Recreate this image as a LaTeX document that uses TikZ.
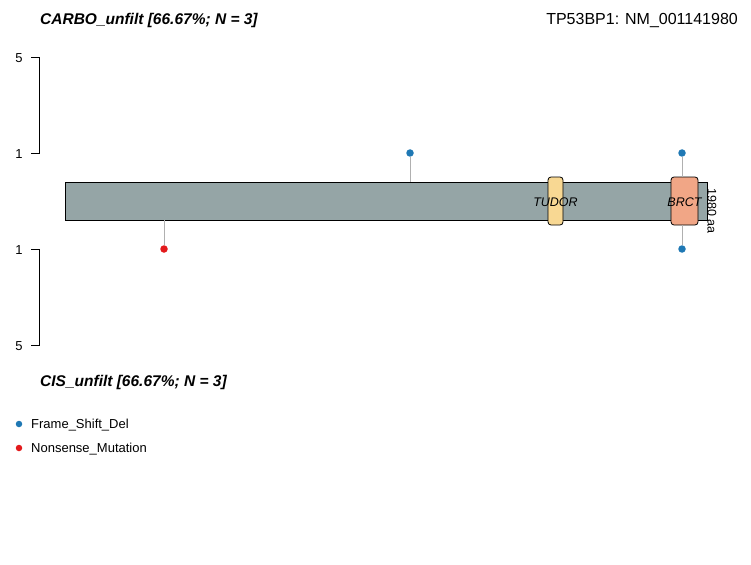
\documentclass[tikz,border=0pt]{standalone}
\usepackage{fontspec}
\setmainfont{Liberation Sans}
\definecolor{protgray}{HTML}{95A5A6}
\definecolor{tudorcol}{HTML}{F8D893}
\definecolor{brctcol}{HTML}{F1A686}
\definecolor{fsdel}{HTML}{1F78B4}
\definecolor{nonsense}{HTML}{E31A1C}
\definecolor{stemgray}{HTML}{B0B0B0}
\tikzset{
  lolli/.style={circle,inner sep=0pt,minimum size=7.5pt},
  domainbox/.style={draw,line width=0.8pt,rounded corners=3pt},
  ticklab/.style={font=\fontsize{13}{15}\selectfont,anchor=center},
  stem/.style={stemgray,line width=0.8pt}
}
\begin{document}
\begin{tikzpicture}[x=1pt,y=-1pt]
        \useasboundingbox[fill=white] (0,0) rectangle (751,564);
        % titles
        \node[anchor=west,inner sep=0pt,font=\fontsize{15.5}{18}\selectfont\bfseries\itshape] (top) at (40,20.5) {CARBO\_unfilt [66.67\%; N = 3]};
        \node[anchor=east,inner sep=0pt,font=\fontsize{16}{18}\selectfont] (gene) at (738,20.5) {TP53BP1: NM\_001141980};
        \node[anchor=west,inner sep=0pt,font=\fontsize{15.5}{18}\selectfont\bfseries\itshape] (bottom) at (40,382.5) {CIS\_unfilt [66.67\%; N = 3]};
        % count axes
        \draw[line width=0.8pt] (31,57) -- (39,57) -- (39,153) -- (31,153);
        \draw[line width=0.8pt] (31,249) -- (39,249) -- (39,345) -- (31,345);
        \node[ticklab] (u5) at (19,58) {5};
        \node[ticklab] (u1) at (19,154) {1};
        \node[ticklab] (l1) at (19,250) {1};
        \node[ticklab] (l5) at (19,346) {5};
        % protein and domains
        \draw[fill=protgray,line width=0.8pt] (65,182) rectangle (707,220);
        \node[rotate=-90,font=\fontsize{12.5}{14}\selectfont] (len) at (712,211) {1980 aa};
        \draw[domainbox,fill=tudorcol] (548,177) rectangle (563,225);
        \draw[domainbox,fill=brctcol] (671,177) rectangle (698,225);
        \node[font=\fontsize{12.5}{14}\selectfont\itshape] (tudor) at (555.5,202) {TUDOR};
        \node[font=\fontsize{12.5}{14}\selectfont\itshape] (brct) at (684.5,202) {BRCT};
        % mutations
        \node[lolli,fill=fsdel] (m1) at (410,153) {};
        \node[lolli,fill=fsdel] (m2) at (682,153) {};
        \node[lolli,fill=fsdel] (m3) at (682,249) {};
        \node[lolli,fill=nonsense] (m4) at (164,249) {};
        \coordinate (b1) at (410,182);
        \coordinate (b2) at (682,177);
        \coordinate (b3) at (682,225);
        \coordinate (b4) at (164,220);
        \draw[stem] (m1) -- (b1);
        \draw[stem] (m2) -- (b2);
        \draw[stem] (m3) -- (b3);
        \draw[stem] (m4) -- (b4);
        % legend
        \node[lolli,fill=fsdel,minimum size=6.5pt] (k1) at (19,424) {};
        \node[lolli,fill=nonsense,minimum size=6.5pt] (k2) at (19,448) {};
        \node[anchor=west,inner sep=0pt,font=\fontsize{13}{15}\selectfont] (t1) at (31,425.5) {Frame\_Shift\_Del};
        \node[anchor=west,inner sep=0pt,font=\fontsize{13}{15}\selectfont] (t2) at (31,449.5) {Nonsense\_Mutation};
    \end{tikzpicture}
\end{document}
